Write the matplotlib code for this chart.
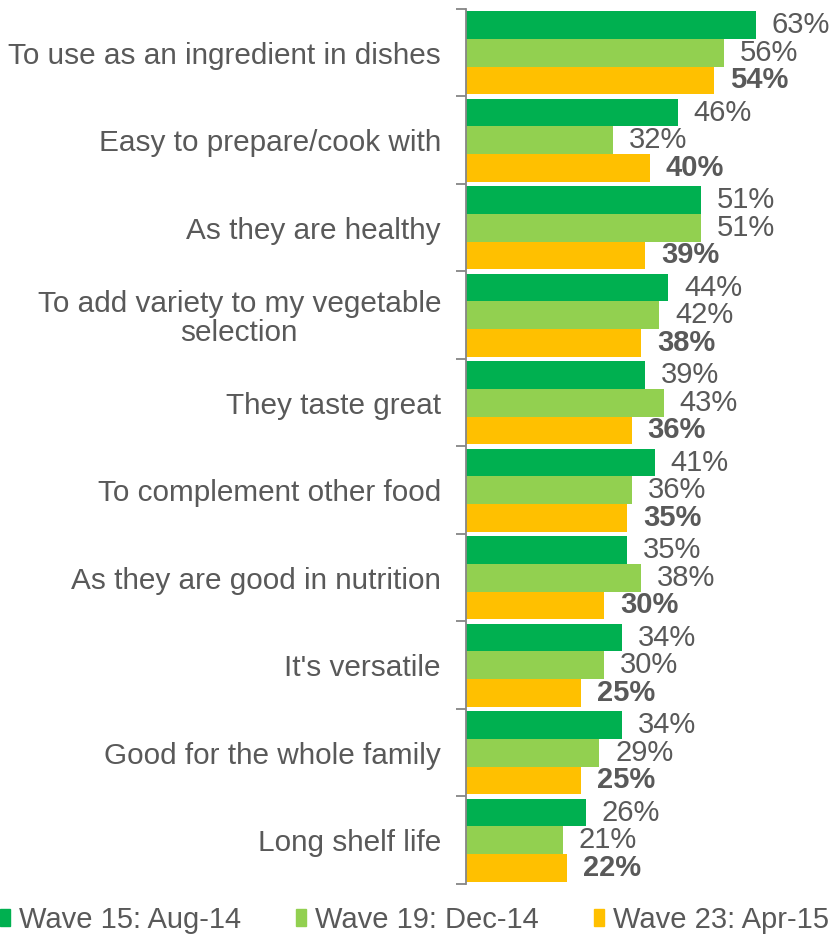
import matplotlib
matplotlib.use("Agg")
import matplotlib.pyplot as plt
from matplotlib.patches import Rectangle
import numpy as np

plt.rcParams['font.family'] = ['Liberation Sans', 'DejaVu Sans']

categories = [
    "To use as an ingredient in dishes",
    "Easy to prepare/cook with",
    "As they are healthy",
    "To add variety to my vegetable\nselection",
    "They taste great",
    "To complement other food",
    "As they are good in nutrition",
    "It's versatile",
    "Good for the whole family",
    "Long shelf life",
]
wave15 = [63, 46, 51, 44, 39, 41, 35, 34, 34, 26]
wave19 = [56, 32, 51, 42, 43, 36, 38, 30, 29, 21]
wave23 = [54, 40, 39, 38, 36, 35, 30, 25, 25, 22]
series_names = ["Wave 15: Aug-14", "Wave 19: Dec-14", "Wave 23: Apr-15"]
colors = ["#00B050", "#92D050", "#FFC000"]
text_color = "#595959"

W, H = 835, 939
fig = plt.figure(figsize=(W / 100, H / 100), dpi=100)
ax = fig.add_axes([466 / W, 1 - 884 / H, 1 - 466 / W, (884 - 9) / H])

n = len(categories)
bar_h = 0.315
offsets = [-bar_h, 0, bar_h]
y = np.arange(n)
for s, (vals, c) in enumerate(zip([wave15, wave19, wave23], colors)):
    ax.barh(y + offsets[s], vals, height=bar_h, color=c, edgecolor="none",
            label=series_names[s])
    for yi, v in zip(y, vals):
        ax.annotate(f"{v}%", (v, yi + offsets[s]), xytext=(11.5, 0),
                    textcoords="offset points", va="center", ha="left",
                    fontsize=21, color=text_color,
                    fontweight="bold" if s == 2 else "normal")

ax.set_xlim(0, (W - 466) / 4.6)
ax.set_ylim(n - 0.5, -0.5)
ax.set_xticks([])
ax.set_yticks(y)
ax.set_yticklabels(categories, fontsize=21.4, color=text_color,
                   multialignment="center", linespacing=1.05)
ax.tick_params(axis="y", length=0, pad=18)
ax.set_yticks(np.arange(-0.5, n, 1.0), minor=True)
ax.tick_params(axis="y", which="minor", length=7, width=1.3, color="#868686")
for side in ["top", "right", "bottom"]:
    ax.spines[side].set_visible(False)
ax.spines["left"].set_color("#868686")
ax.spines["left"].set_linewidth(1.3)

handles = [Rectangle((0, 0), 1, 1, color=c) for c in colors]
fig.legend(handles, series_names, loc="center left",
           bbox_to_anchor=(0.0, 1 - 920 / H), borderaxespad=0, borderpad=0,
           ncol=3, frameon=False, fontsize=21, labelcolor=text_color,
           handlelength=0.34, handleheight=0.5, handletextpad=0.3,
           columnspacing=1.9)

fig.savefig("out.png", dpi=100)
